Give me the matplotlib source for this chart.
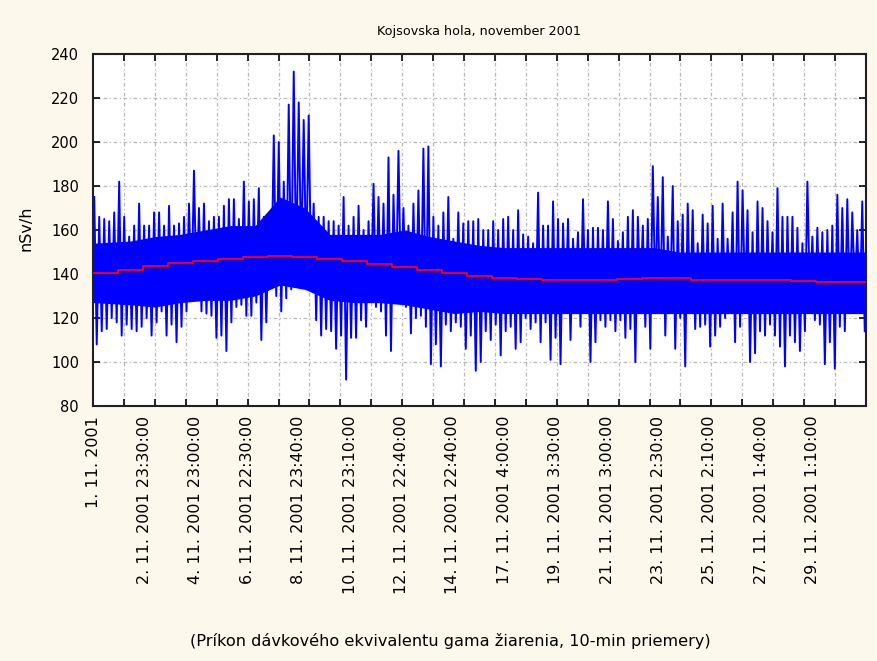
import numpy as np
import matplotlib
matplotlib.use("Agg")
import matplotlib.pyplot as plt

# 10-min averages, Kojsovska hola, Nov 2001 (envelope read per ~28 samples)
n_samples = 4286
hi_vals = [
    175, 166, 165, 164, 168, 182, 166, 157, 162, 172, 162, 162, 168, 168, 162, 171, 162, 163, 166, 172,
    187, 170, 172, 164, 166, 166, 171, 174, 174, 165, 182, 173, 174, 179, 166, 167, 203, 200, 182,
    217, 232, 218, 210, 212, 172, 166, 166, 164, 164, 162, 175, 162, 166, 171, 160, 164, 181, 175, 172,
    193, 176, 196, 170, 162, 172, 178, 197, 198, 166, 162, 168, 175, 156, 168, 163, 164, 164, 165,
    160, 160, 164, 160, 165, 166, 160, 169, 158, 157, 154, 177, 162, 162, 173, 165, 163, 165, 156, 159,
    174, 160, 161, 161, 160, 173, 165, 155, 159, 166, 169, 166, 162, 165, 189, 175, 184, 157, 180,
    164, 167, 172, 169, 154, 167, 163, 171, 156, 172, 156, 168, 182, 178, 169, 159, 173, 170, 164, 159,
    179, 166, 166, 166, 161, 154, 182, 157, 161, 159, 160, 162, 176, 170, 174, 168, 160, 173,
]
lo_vals = [
    108, 114, 115, 120, 118, 112, 117, 115, 114, 116, 120, 112, 118, 123, 112, 117, 109, 116, 123, 129,
    131, 123, 122, 121, 111, 112, 105, 118, 125, 126, 121, 121, 127, 110, 118, 134, 130, 123, 129,
    133, 140, 145, 143, 137, 119, 112, 115, 114, 106, 112, 92, 111, 111, 119, 116, 129, 125, 123, 112,
    105, 128, 131, 125, 113, 120, 121, 116, 99, 108, 98, 117, 114, 118, 116, 106, 112, 96, 100,
    114, 110, 117, 103, 114, 116, 106, 109, 120, 115, 118, 109, 118, 101, 111, 99, 123, 110, 132, 116,
    125, 100, 109, 119, 116, 119, 114, 119, 111, 115, 100, 129, 116, 106, 129, 123, 112, 129, 106,
    120, 98, 123, 115, 116, 117, 107, 112, 116, 120, 123, 109, 116, 128, 100, 104, 114, 112, 117, 112,
    107, 98, 112, 109, 105, 114, 128, 119, 117, 99, 109, 97, 116, 114, 123, 132, 123, 114,
]
# solid part of the blue band, one pair per block of 5 columns
core_hi = [
    154, 155, 157, 158, 160, 162, 162, 175, 170, 158, 158, 158, 160, 157, 155, 153, 152, 152, 152, 152,
    152, 152, 152, 150, 150, 150, 150, 150, 150, 150, 150,
]
core_lo = [
    127, 126, 125, 127, 128, 128, 130, 135, 133, 128, 127, 127, 126, 124, 122, 123, 122, 122, 122, 122,
    122, 122, 122, 122, 122, 122, 122, 122, 122, 122, 122,
]
# red smoothed curve, one level per block of 5 envelope columns
trend_vals = [
    140.5, 142.0, 143.5, 145.0, 146.0, 147.0, 147.6, 148.4, 147.6, 146.8, 145.8, 144.7, 143.4, 142.0,
    140.5, 139.2, 138.2, 137.8, 137.3, 137.3, 137.3, 137.6, 138.2, 138.2, 137.3, 137.3, 137.3, 137.3,
    136.6, 136.4, 136.4,
]
tick_step = 285
tick_labels = [
    "1. 11. 2001", "2. 11. 2001 23:30:00", "4. 11. 2001 23:00:00", "6. 11. 2001 22:30:00",
    "8. 11. 2001 23:40:00", "10. 11. 2001 23:10:00", "12. 11. 2001 22:40:00", "14. 11. 2001 22:40:00",
    "17. 11. 2001 4:00:00", "19. 11. 2001 3:30:00", "21. 11. 2001 3:00:00", "23. 11. 2001 2:30:00",
    "25. 11. 2001 2:10:00", "27. 11. 2001 1:40:00", "29. 11. 2001 1:10:00",
]

plt.rcParams['font.family'] = ['DejaVu Sans']
bg = '#fdf8ec'

fig = plt.figure(figsize=(8.77, 6.61), dpi=100, facecolor=bg)
ax = fig.add_axes([93/877, 1 - 406/661, 773/877, 352/661])
ax.set_facecolor('white')

ncol = len(hi_vals)
w = n_samples / ncol
xs = []
ys = []
for i in range(ncol):
    xs.append((i + 0.25) * w)
    ys.append(hi_vals[i])
    xs.append((i + 0.75) * w)
    ys.append(lo_vals[i])
ax.plot(xs, ys, color='#0000ff', lw=1.4, zorder=2)

tw = 5 * w
cx = (np.arange(len(core_hi)) + 0.5) * tw
cx[0] = 0
cx[-1] = n_samples
ax.fill_between(cx, core_lo, core_hi, color='#0000ff', lw=0, zorder=2)

tx = np.arange(len(trend_vals) + 1) * tw
ty = trend_vals + [trend_vals[-1]]
ax.plot(np.minimum(tx, n_samples), ty, color='#ff0000', lw=1.3, drawstyle='steps-post', zorder=3)

ax.set_xlim(0, n_samples)
ax.set_ylim(80, 240)
ax.set_yticks(np.arange(80, 241, 20))

# grid/ticks every 1/25 of the axis, labels every 285 samples
ax.set_xticks(np.linspace(0, n_samples, 26)[1:-1])
ax.set_xticklabels([])
ax.set_xticks(np.arange(len(tick_labels)) * tick_step, tick_labels, minor=True)
ax.tick_params(axis='x', which='minor', length=0, rotation=90, labelsize=11.5, pad=7)
ax.tick_params(axis='both', which='major', direction='in', length=5, width=1.2,
               top=True, right=True, labelsize=10.5)
ax.tick_params(axis='y', pad=10)

ax.grid(True, which='major', color='#b8b8b8', lw=0.9, linestyle=(0, (3, 2, 1, 2)))
ax.set_axisbelow(True)
for s in ax.spines.values():
    s.set_linewidth(1.5)
    s.set_color('#202020')

fig.text(479/877, 1 - 31/661, "Kojsovska hola, november 2001", ha='center', va='center', fontsize=9.2)
fig.text(26/877, 1 - 228/661, "nSv/h", rotation=90, ha='center', va='center', fontsize=11.5)
fig.text(450/877, 1 - 641/661, "(Príkon dávkového ekvivalentu gama žiarenia, 10-min priemery)",
         ha='center', va='center', fontsize=11.6)

fig.savefig("out.png", dpi=100, facecolor=bg)
